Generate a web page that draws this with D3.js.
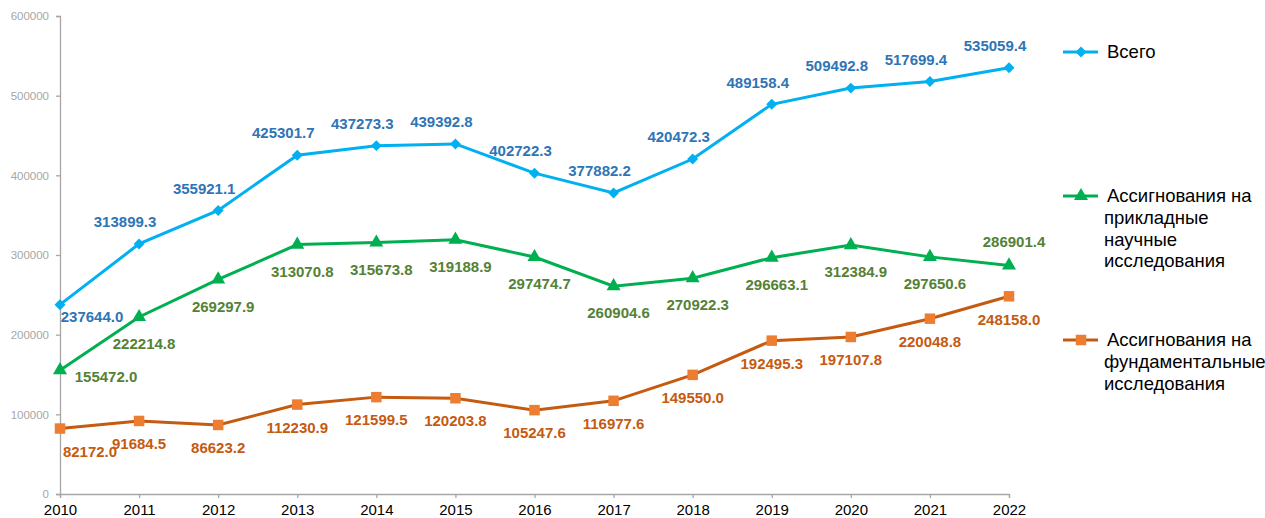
<!DOCTYPE html>
<html>
<head>
<meta charset="utf-8">
<script src="https://cdn.jsdelivr.net/npm/d3@7"></script>
<style>
  body { margin: 0; background: #fff; }
  svg { font-family: "Liberation Sans", Arial, sans-serif; }
</style>
</head>
<body>
<script>
let years = [2010, 2011, 2012, 2013, 2014, 2015, 2016, 2017, 2018, 2019, 2020, 2021, 2022]
let total = [237644.0, 313899.3, 355921.1, 425301.7, 437273.3, 439392.8, 402722.3, 377882.2, 420472.3, 489158.4, 509492.8, 517699.4, 535059.4]
let applied = [155472.0, 222214.8, 269297.9, 313070.8, 315673.8, 319188.9, 297474.7, 260904.6, 270922.3, 296663.1, 312384.9, 297650.6, 286901.4]
let basic = [82172.0, 91684.5, 86623.2, 112230.9, 121599.5, 120203.8, 105247.6, 116977.6, 149550.0, 192495.3, 197107.8, 220048.8, 248158.0]
let yTicks = [0, 100000, 200000, 300000, 400000, 500000, 600000]
let names = ['Всего', 'Ассигнования на|прикладные|научные|исследования', 'Ассигнования на|фундаментальные|исследования']

let width = 1265, height = 518

let series = [
  {name: names[0], values: total, line: '#00b0f0', fill: '#00b0f0', label: '#2e75b6', symbol: d3.symbolSquare, size: 60, rot: 45, dx: -14, dy: -22, legendY: 52},
  {name: names[1], values: applied, line: '#00b050', fill: '#00b050', label: '#548235', symbol: d3.symbolTriangle, size: 85, rot: 0, dx: 5, dy: 27, legendY: 196},
  {name: names[2], values: basic, line: '#c55a11', fill: '#ed7d31', label: '#c55a11', symbol: d3.symbolSquare, size: 110, rot: 0, dx: 0, dy: 23, legendY: 340}
]

let x = d3.scaleLinear().domain([2010, 2022]).range([60, 1009])
let y = d3.scaleLinear().domain([0, 600000]).range([494, 16])

let svg = d3.select('body').append('svg')
  .attr('width', width)
  .attr('height', height)

// axes
let gy = svg.append('g')
  .attr('transform', 'translate(60,0)')
  .call(d3.axisLeft(y).tickValues(yTicks).tickFormat(d3.format('d')).tickSize(4).tickPadding(7))
gy.selectAll('text').attr('fill', '#a6a6a6').style('font-size', '11.5px')

let gx = svg.append('g')
  .attr('transform', 'translate(0,494)')
  .call(d3.axisBottom(x).tickValues(years).tickFormat(d3.format('d')).tickSize(4).tickPadding(6))
gx.selectAll('text').attr('fill', '#000').style('font-size', '15px')

svg.selectAll('.domain, .tick line').attr('stroke', '#a6a6a6').attr('stroke-width', 1.3)

let line = d3.line().x((d, i) => x(years[i])).y(d => y(d))

series.forEach((s, k) => {
  let g = svg.append('g')
  g.append('path')
    .datum(s.values)
    .attr('d', line)
    .attr('fill', 'none')
    .attr('stroke', s.line)
    .attr('stroke-width', 3)

  g.selectAll('path.m')
    .data(s.values)
    .enter().append('path')
    .attr('class', 'm')
    .attr('d', d3.symbol().type(s.symbol).size(s.size))
    .attr('transform', (d, i) => `translate(${x(years[i])},${y(d)}) rotate(${s.rot})`)
    .attr('fill', s.fill)

  g.selectAll('text')
    .data(s.values)
    .enter().append('text')
    .attr('x', (d, i) => {
      if (i == 0) return x(years[i]) + [32, 46, 30][k]
      return x(years[i]) + s.dx
    })
    .attr('y', (d, i) => {
      if (i == 0) return y(d) + [12, 7, 23][k]
      if (k == 1 && i == years.length - 1) return y(d) - 24
      return y(d) + s.dy
    })
    .attr('dy', '0.35em')
    .attr('text-anchor', 'middle')
    .attr('fill', s.label)
    .style('font-size', '15px')
    .style('font-weight', 'bold')
    .text(d => d.toFixed(1))

  // legend
  let lg = svg.append('g').attr('transform', `translate(1063,${s.legendY})`)
  lg.append('line').attr('x1', 0).attr('x2', 35)
    .attr('stroke', s.line).attr('stroke-width', 3)
  lg.append('path')
    .attr('d', d3.symbol().type(s.symbol).size(s.size))
    .attr('transform', `translate(18,0) rotate(${s.rot})`)
    .attr('fill', s.fill)
  let t = lg.append('text')
    .attr('fill', '#000')
    .style('font-size', '18.5px')
  s.name.split('|').forEach((part, j) => {
    t.append('tspan')
      .attr('x', j == 0 ? 44 : 41)
      .attr('y', j * 21.6)
      .attr('dy', '0.35em')
      .text(part)
  })
})
</script>
</body>
</html>
